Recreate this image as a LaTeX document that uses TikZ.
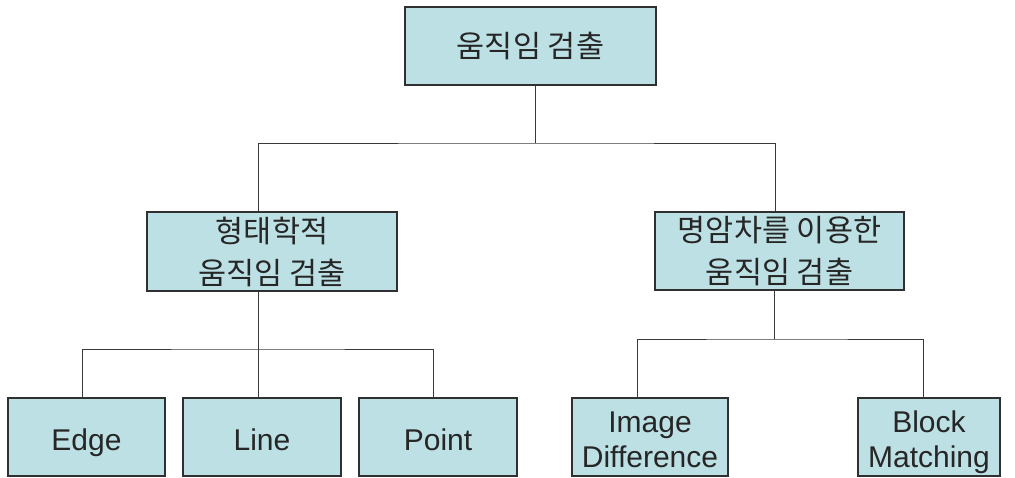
\documentclass[tikz,border=0pt]{standalone}
\usepackage{fontspec}
\setmainfont{Liberation Sans}
\newfontfamily\krfont{Noto Sans CJK KR}
\newfontfamily\enfont{Liberation Sans}
\usetikzlibrary{calc}
\definecolor{boxfill}{HTML}{BCE0E4}
\definecolor{boxline}{HTML}{303030}
\definecolor{conn}{HTML}{3A3A3A}
\tikzset{
  box/.style={draw=boxline, line width=1.1pt, fill=boxfill, inner sep=0pt, align=center, text=black!85},
  kr/.style={box, font=\krfont\fontsize{30.5}{42}\selectfont},
  en/.style={box, font=\enfont\fontsize{30}{35}\selectfont},
  enone/.style={en, text height=30pt, text depth=4pt},
  entwo/.style={en, text height=64pt, text depth=4pt},
  wire/.style={draw=conn, line width=1pt}
}
\begin{document}
\begin{tikzpicture}[x=1pt,y=-1pt]
\useasboundingbox (0,0) rectangle (1015,477);
\node[kr, minimum width=251pt, minimum height=78pt] (root) at (530.5,46) {움직임 검출};
\node[kr, minimum width=250pt, minimum height=79pt] (L) at (272,251.5) {형태학적\\움직임 검출};
\node[kr, minimum width=249pt, minimum height=78pt] (R) at (779.5,251) {명암차를 이용한\\움직임 검출};
\node[enone, minimum width=157pt, minimum height=78pt] (edge) at (86.5,437) {Edge};
\node[enone, minimum width=158pt, minimum height=78pt] (line) at (262,437) {Line};
\node[enone, minimum width=158pt, minimum height=78pt] (point) at (438,437) {Point};
\node[entwo, minimum width=156pt, minimum height=78pt] (diff) at (650,437) {Image\\Difference};
\node[entwo, minimum width=142pt, minimum height=78pt] (block) at (929,437) {Block\\Matching};
% buses
\coordinate (b0) at (535,143);
\coordinate (b1) at (258,349);
\coordinate (b2) at (774,339);
% root to level 1
\draw[wire] (root.south -| b0) -- (b0);
\draw[wire] ([xshift=-14pt]L.north) |- (b0) -| ([xshift=-4.5pt]R.north);
% left subtree
\draw[wire] (L.south -| b1) -- (line.north -| b1);
\draw[wire] ([xshift=-4.5pt]edge.north) |- (b1) -| ([xshift=-5pt]point.north);
% right subtree
\draw[wire] (R.south -| b2) -- (b2);
\draw[wire] ([xshift=-13pt]diff.north) |- (b2) -| ([xshift=-6pt]block.north);
\end{tikzpicture}
\end{document}
